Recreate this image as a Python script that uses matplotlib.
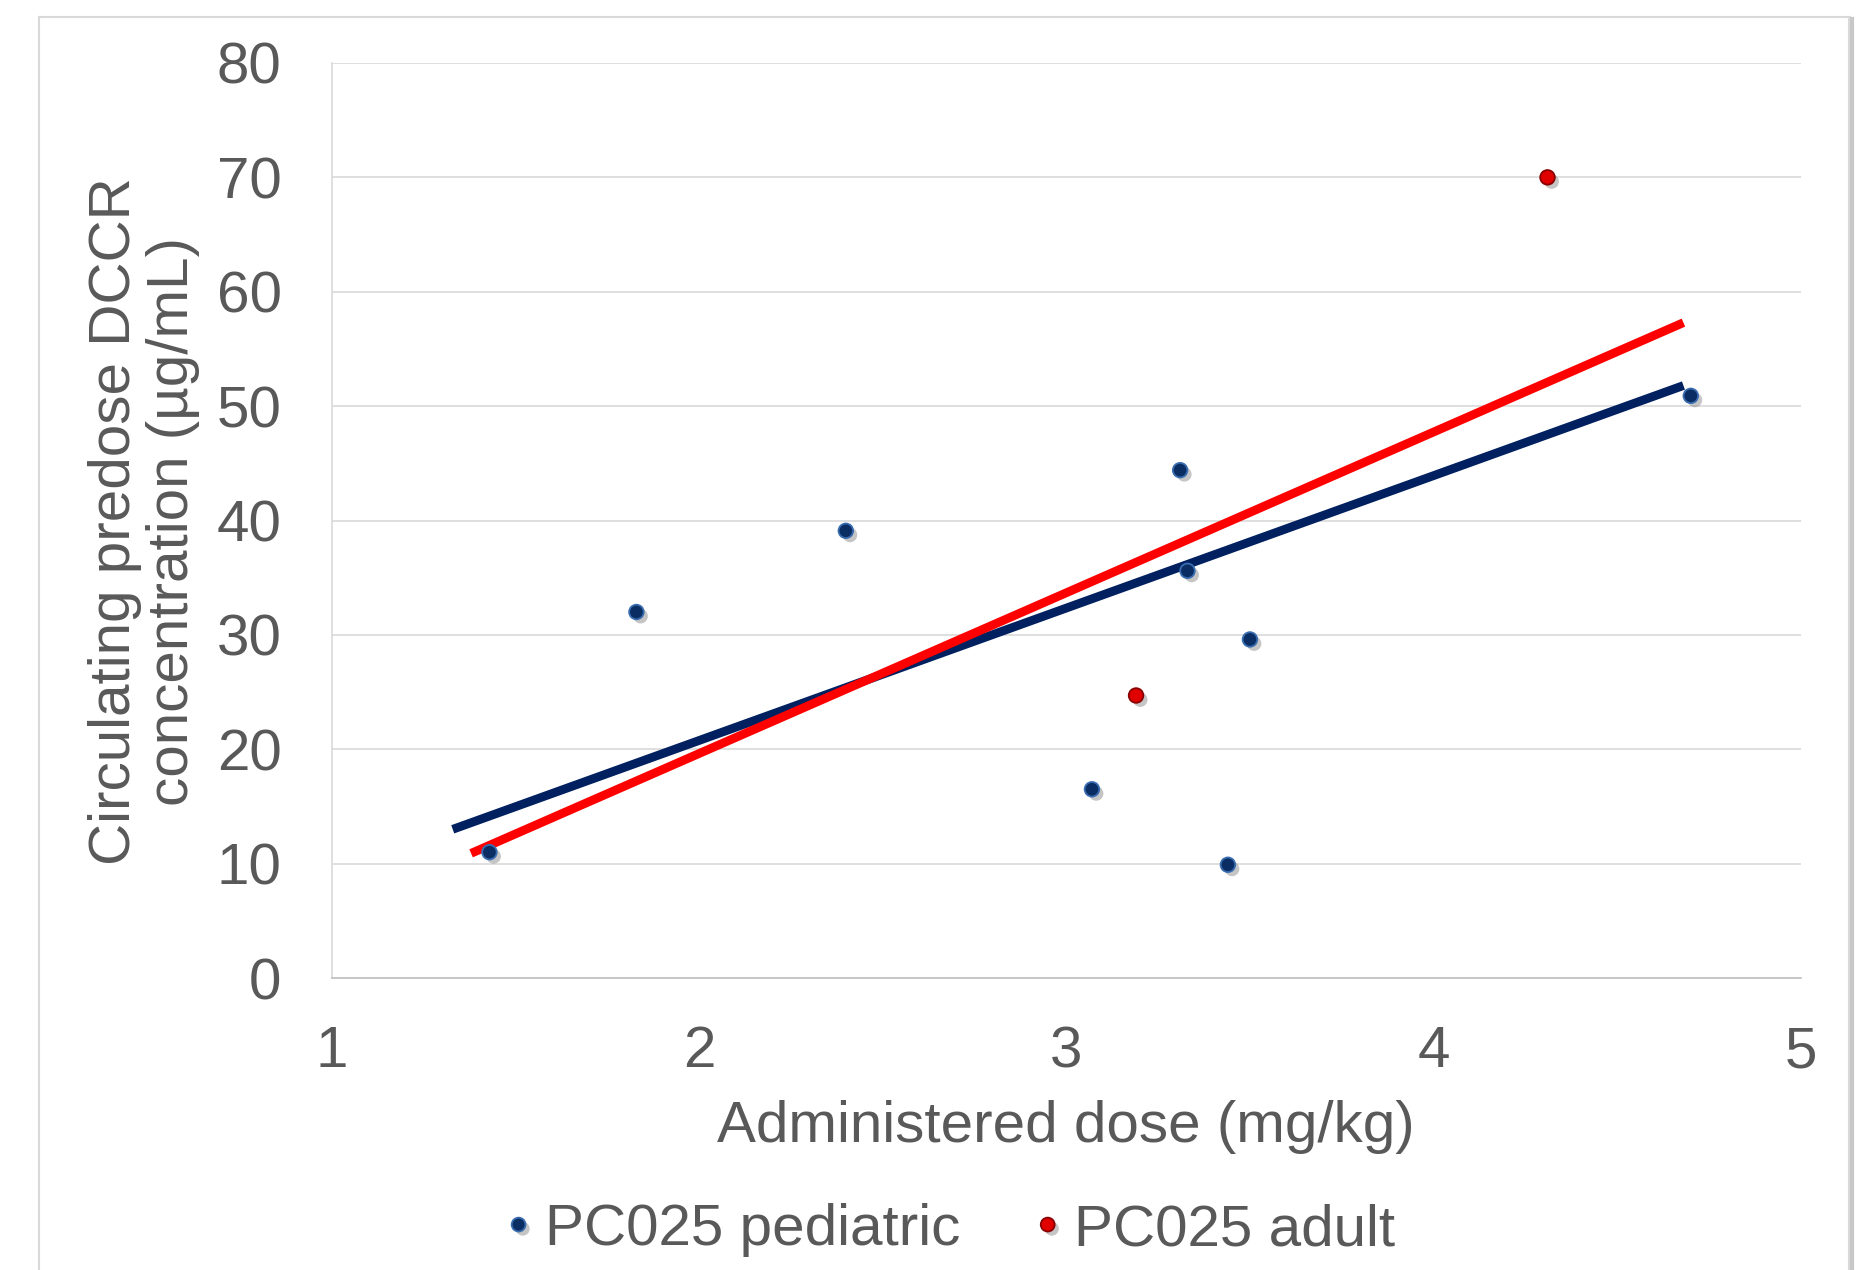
import matplotlib
matplotlib.use("Agg")
import matplotlib.pyplot as plt
import matplotlib.patheffects as pe
from matplotlib.lines import Line2D

plt.rcParams['font.family'] = ['Liberation Sans', 'DejaVu Sans']

# data
ped_dose = [1.43, 1.83, 2.40, 3.31, 3.33, 3.50, 3.07, 3.44, 4.70]
ped_conc = [11.0, 32.0, 39.1, 44.4, 35.6, 29.6, 16.5, 9.9, 50.9]
adult_dose = [3.19, 4.31]
adult_conc = [24.7, 70.0]

# trend lines (endpoints as drawn)
ped_trend_x = [1.33, 4.68]
ped_trend_y = [13.0, 51.8]
adult_trend_x = [1.38, 4.68]
adult_trend_y = [10.9, 57.3]

xticks = [1, 2, 3, 4, 5]
yticks = [0, 10, 20, 30, 40, 50, 60, 70, 80]

gray_txt = '#595959'
grid_c = '#D9D9D9'
navy = '#002060'
red = '#FF0000'
fs = 42

fig = plt.figure(figsize=(18.7, 12.7), dpi=100)
ax = fig.add_axes([331.5/1870, 1 - 978/1270, (1801-331.5)/1870, (978-63)/1270])

ax.plot(ped_trend_x, ped_trend_y, color=navy, lw=6.3, solid_capstyle='butt', zorder=3)
ax.plot(adult_trend_x, adult_trend_y, color=red, lw=6.3, solid_capstyle='butt', zorder=3)

shadow = [pe.SimplePatchShadow(offset=(3, -3), shadow_rgbFace='#808080', alpha=0.45), pe.Normal()]
ax.plot(ped_dose, ped_conc, ls='none', marker='o', ms=10.5, mfc='#0A2E63', mec='#3A6DB0',
        mew=1.3, zorder=4, path_effects=shadow, label='PC025 pediatric')
ax.plot(adult_dose, adult_conc, ls='none', marker='o', ms=10.5, mfc='#E00000', mec='#8A0000',
        mew=1.3, zorder=4, path_effects=shadow, label='PC025 adult')

ax.set_xlim(1, 5)
ax.set_ylim(0, 80)
ax.set_xticks(xticks)
ax.set_yticks(yticks)
ax.yaxis.grid(True, color=grid_c, lw=1.2)
ax.set_axisbelow(True)
for s in ['top', 'right']:
    ax.spines[s].set_visible(False)
ax.spines['left'].set_color(grid_c)
ax.spines['bottom'].set_color('#BFBFBF')
ax.spines['left'].set_linewidth(1.2)
ax.spines['bottom'].set_linewidth(1.2)
ax.tick_params(length=0, labelsize=fs, labelcolor=gray_txt)
ax.tick_params(axis='y', pad=36)
ax.tick_params(axis='x', pad=34)

ax.set_xlabel('Administered dose (mg/kg)', fontsize=fs, color=gray_txt)
ax.xaxis.label.set_va('center')
ax.xaxis.set_label_coords(0.5, -(1127 - 978) / 915)

fig.text(144/1870, 1 - 521/1270, 'Circulating predose DCCR\nconcentration (µg/mL)',
         rotation=90, ha='center', va='center', fontsize=fs, color=gray_txt,
         linespacing=1.1, multialignment='center')

leg = fig.legend(loc='center', bbox_to_anchor=(951/1870, 1 - 1230/1270), ncol=2,
                 frameon=False, fontsize=fs, handlelength=0.4, handletextpad=0.25,
                 columnspacing=1.3, markerscale=0.95, labelcolor=gray_txt)

# chart frame
fc = '#D9D9D9'
fig.add_artist(Line2D([39/1870, 39/1870], [0, 1 - 17/1270], color=fc, lw=1.5, transform=fig.transFigure))
fig.add_artist(Line2D([39/1870, 1850/1870], [1 - 17/1270, 1 - 17/1270], color=fc, lw=1.5, transform=fig.transFigure))
fig.add_artist(Line2D([1852/1870, 1852/1870], [0, 1 - 19/1270], color='#C8C8C8', lw=3, transform=fig.transFigure))
fig.add_artist(Line2D([1849/1870, 1849/1870], [0, 1 - 17/1270], color=fc, lw=1.5, transform=fig.transFigure))

fig.savefig('out.png', dpi=100)
